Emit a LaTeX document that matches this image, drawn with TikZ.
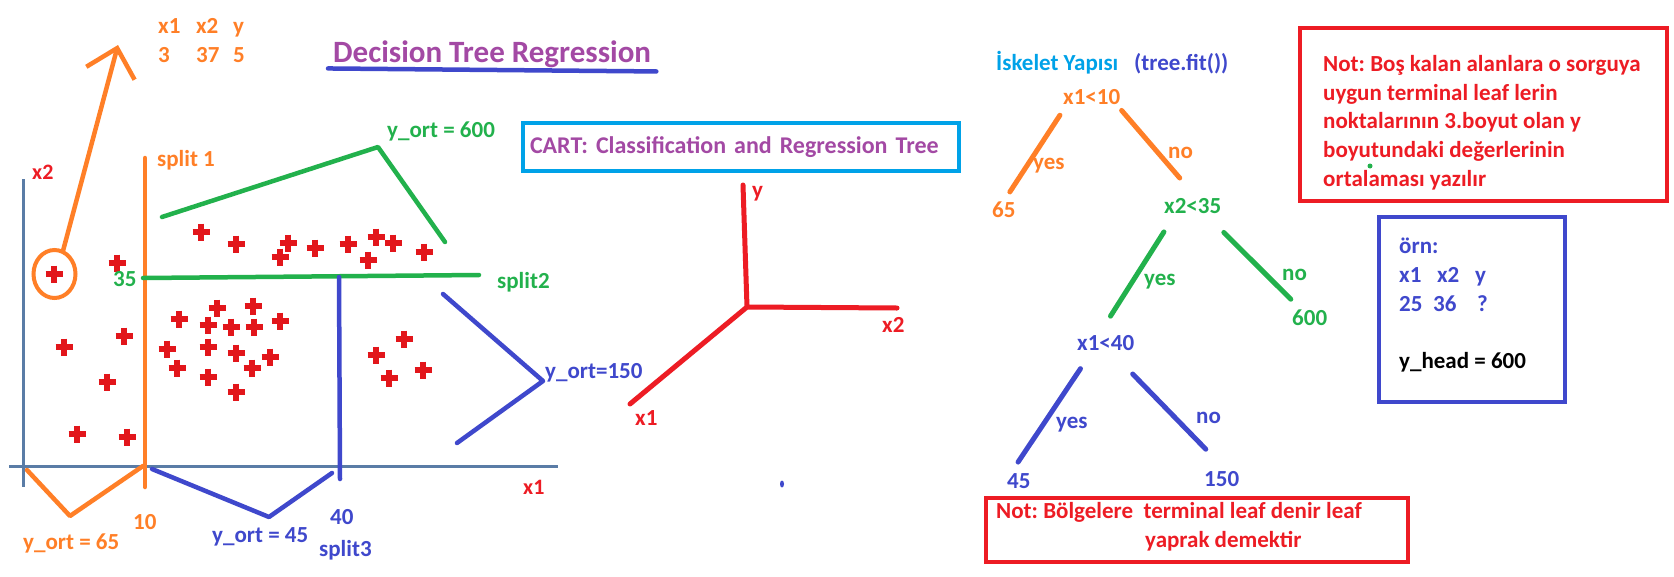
\documentclass[tikz,border=0pt]{standalone}
\usepackage{fontspec}
\setmainfont{Carlito}
\usetikzlibrary{arrows.meta, shapes.geometric}
\definecolor{pOrange}{HTML}{FF7F27}
\definecolor{pGreen}{HTML}{22B14C}
\definecolor{pBlue}{HTML}{3F48CC}
\definecolor{pRed}{HTML}{ED1C24}
\definecolor{pCyan}{HTML}{00A2E8}
\definecolor{pPurple}{HTML}{A349A4}
\definecolor{axisgray}{HTML}{5A7CA6}
\definecolor{dotred}{HTML}{E2161B}
\frenchspacing

\begin{document}
\begin{tikzpicture}[x=1pt, y=-1pt,
  lbl/.style={font=\fontsize{23}{28.7}\selectfont\bfseries, inner sep=0pt, anchor=base west},
  axlbl/.style={lbl, font=\fontsize{22}{26}\selectfont\bfseries, pRed},
  pen/.style={line width=4.5pt, line cap=round, line join=round},
  edge/.style={pen, line width=5pt},
  axisln/.style={line width=3pt, color=axisgray},
  crs/.style={line width=6.5pt, color=dotred},
  nbox/.style={draw, line width=4pt, inner sep=0pt}
]
  \useasboundingbox (0,0) rectangle (1674,576);
  \fill[white] (0,0) rectangle (1674,576);

  % scatter plot
  \draw[axisln] (23,179) -- (23,487);
  \draw[axisln] (9,466) -- (558,466);
  \foreach \px/\py in {201/232, 236/244, 288/243, 280/257, 315/248, 348/244, 376/237, 393/243, 368/260, 424/252,
      117/263, 54/274, 64/347, 124/336, 107/382, 77/434, 127/437,
      179/319, 217/308, 253/306, 208/325, 231/327, 254/327, 280/321, 167/349, 208/347, 236/353, 270/357, 177/368, 208/377, 252/368, 236/392,
      404/339, 376/355, 423/370, 389/378}
    \draw[crs] (\px-8.5,\py) -- (\px+8.5,\py) (\px,\py-8.5) -- (\px,\py+8.5);

  \draw[pen, pOrange] (145,158) -- (145,487);
  \draw[pen, pGreen] (143,278) -- (479,275);
  \draw[pen, pBlue] (339,277) -- (340,479);
  \draw[pen, pGreen] (162,217) -- (378,147) -- (445,242);
  \draw[pen, pBlue] (443,294) -- (543,381) -- (457,443);
  \draw[pen, pOrange] (27,470) -- (70,516) -- (143,466);
  \draw[pen, pBlue] (152,469) -- (269,517) -- (332,473);

  \node[axlbl] (ax2) at (32,179) {x2};
  \node[axlbl] (ax1) at (523,494) {x1};
  \node[lbl, pOrange] (s1) at (157,166) {split 1};
  \node[lbl, pGreen] (v35) at (113,286) {35};
  \node[lbl, pGreen] (s2) at (497,288) {split2};
  \node[lbl, pBlue] (s3) at (319,556) {split3};
  \node[lbl, pOrange] (v10) at (133,529) {10};
  \node[lbl, pBlue] (v40) at (330,524) {40};
  \node[lbl, pGreen] (o600) at (387,137) {y\_ort = 600};
  \node[lbl, pBlue] (o150) at (545,378) {y\_ort=150};
  \node[lbl, pOrange] (o65) at (23,549) {y\_ort = 65};
  \node[lbl, pBlue] (o45) at (212,542) {y\_ort = 45};

  % picked point
  \node[draw=pOrange, line width=4pt, ellipse, minimum width=42pt, minimum height=48pt, inner sep=0pt] (pick) at (54.5,274) {};
  \coordinate (tip) at (118,45);
  \draw[pen, pOrange, -{Straight Barb[length=26pt, width=50pt]}] (pick.70) -- (tip);
  \node[lbl, pOrange, anchor=north west, align=left] (sample) at (158,18.5)
    {\makebox[38pt][l]{x1}\makebox[37pt][l]{x2}y\\\makebox[38pt][l]{3}\makebox[37pt][l]{37}5};

  % title
  \node[lbl, font=\fontsize{31}{36}\selectfont\bfseries, pPurple] (title) at (333,62) {Decision Tree Regression};
  \draw[pen, pBlue] ([xshift=-5pt,yshift=-1pt]title.south west) -- ([xshift=5pt,yshift=-4pt]title.south east);

  \node[nbox, draw=pCyan, text=pPurple, font=\fontsize{24}{29}\selectfont\bfseries, minimum width=436pt, minimum height=48pt,
    text width=422pt, inner xsep=7pt, align=left] (cart) at (741,147) {\mbox{CART: Classification and Regression Tree}};

  % 3d axes
  \coordinate (o3) at (747,307);
  \draw[pen, pRed, line width=5pt] (743,185) -- (o3) -- (897,308) (o3) -- (630,404);
  \node[lbl, pRed] (ay) at (752,197) {y};
  \node[lbl, pRed] (ax2b) at (882,332) {x2};
  \node[lbl, pRed] (ax1b) at (635,425) {x1};
  \fill[pBlue] (782,484) ellipse (2pt and 3.5pt);

  % tree
  \node[lbl, pCyan] (iskelet) at (996,70) {İskelet Yapısı};
  \node[lbl, pBlue] (fit) at (1134,70) {(tree.fit())};
  \node[lbl, pOrange] (r10) at (1063,104) {x1<10};
  \node[lbl, pOrange] (l65) at (992,217) {65};
  \node[lbl, pGreen] (r35) at (1164,213) {x2<35};
  \node[lbl, pGreen] (l600) at (1292,325) {600};
  \node[lbl, pBlue] (r40) at (1077,350) {x1<40};
  \node[lbl, pBlue] (l45) at (1007,488) {45};
  \node[lbl, pBlue] (l150) at (1204,486) {150};

  \draw[edge, pOrange, shorten <=13pt, shorten >=11pt] ([xshift=4pt]r10.south west) -- (l65.north);
  \draw[edge, pOrange, shorten <=8pt, shorten >=26pt] ([xshift=-4pt]r10.south east) -- ([xshift=4pt]r35.north);
  \draw[edge, pGreen, shorten <=22pt, shorten >=22pt] ([xshift=-17pt]r35.south) -- ([xshift=-7pt]r40.north);
  \draw[edge, pGreen, shorten <=27pt, shorten >=14pt] ([xshift=12pt]r35.south) -- ([xshift=-9pt]l600.north);
  \draw[edge, pBlue, shorten <=22pt, shorten >=13pt] ([xshift=-13pt]r40.south) -- ([xshift=-8pt]l45.north);
  \draw[edge, pBlue, shorten <=33pt, shorten >=30pt] ([xshift=4pt]r40.south) -- ([xshift=5pt]l150.north);

  \node[lbl, pOrange] (y1) at (1033,169) {yes};
  \node[lbl, pOrange] (n1) at (1168,158) {no};
  \node[lbl, pGreen] (y2) at (1144,285) {yes};
  \node[lbl, pGreen] (n2) at (1282,280) {no};
  \node[lbl, pBlue] (y3) at (1056,428) {yes};
  \node[lbl, pBlue] (n3) at (1196,423) {no};

  % notes
  \node[nbox, draw=pRed, minimum width=367pt, minimum height=173pt] (notebox) at (1483.5,114.5) {};
  \node[lbl, pRed, anchor=north west, align=left] (note) at (1323,55)
    {Not: Boş kalan alanlara o sorguya\\uygun terminal leaf lerin\\noktalarının 3.boyut olan y\\boyutundaki değerlerinin\\ortalaması yazılır};
  \fill[pGreen] (1370,166) circle (2.5pt);

  \node[nbox, draw=pBlue, minimum width=186pt, minimum height=185pt] (exbox) at (1472,309.5) {};
  \node[lbl, pBlue, anchor=north west, align=left] (ex) at (1399,238)
    {örn:\\\makebox[38pt][l]{x1}\makebox[38pt][l]{x2}y\\\makebox[34pt][l]{25}\makebox[44pt][l]{36}?\\[29pt]\textcolor{black}{y\_head = 600}};

  \node[nbox, draw=pRed, minimum width=422pt, minimum height=64pt] (leafbox) at (1197,530) {};
  \node[lbl, pRed, anchor=north west, align=left] (leafnote) at (996,502)
    {Not: Bölgelere\ \ terminal leaf denir leaf\\\hspace*{149pt}yaprak demektir};
\end{tikzpicture}
\end{document}
